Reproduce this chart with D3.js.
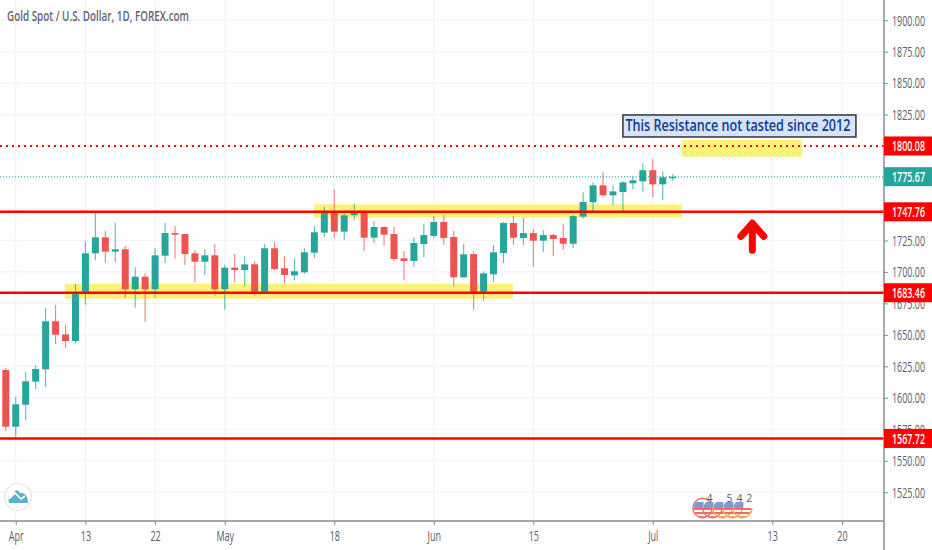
<!DOCTYPE html>
<html>
<head>
<meta charset="utf-8">
<script src="https://d3js.org/d3.v7.min.js"></script>
<style>
  html, body { margin: 0; padding: 0; background: #fff; }
  svg { display: block; }
  text { font-family: "Open Sans", "Liberation Sans", sans-serif; }
</style>
</head>
<body>
<svg id="chart" width="932" height="550"></svg>
<script>
// daily candles
var opens = [1622.1,1577.0,1594.5,1612.8,1622.6,1660.8,1650.4,1645.1,1684.3,1714.8,1727.5,1716.1,1718.0,1686.2,1696.2,1686.2,1712.9,1730.9,1730.1,1714.8,1708.1,1713.2,1686.2,1703.4,1701.5,1706.0,1684.3,1718.8,1702.9,1697.3,1699.7,1715.3,1731.2,1747.9,1732.0,1745.0,1747.4,1727.2,1735.7,1730.1,1710.8,1708.7,1722.2,1728.6,1739.7,1727.8,1695.7,1714.2,1684.3,1698.1,1715.0,1738.9,1727.0,1730.9,1724.8,1729.3,1727.0,1722.4,1743.9,1755.3,1768.8,1760.9,1763.5,1770.4,1772.0,1780.8,1769.6,1774.9];
var highs = [1623.7,1600.9,1620.3,1626.1,1671.1,1673.7,1657.9,1690.4,1724.6,1747.1,1732.5,1738.9,1720.6,1703.7,1698.9,1718.8,1738.9,1736.5,1730.1,1717.4,1718.0,1722.2,1706.0,1714.2,1712.4,1708.4,1722.2,1723.8,1712.7,1710.8,1718.8,1736.5,1751.6,1765.7,1746.6,1754.2,1748.5,1740.5,1736.0,1735.7,1716.6,1727.8,1738.1,1744.4,1745.2,1732.5,1722.2,1716.6,1700.5,1721.4,1739.7,1744.4,1743.1,1734.1,1733.3,1730.1,1738.1,1745.2,1763.3,1771.2,1779.2,1768.8,1772.0,1776.0,1786.3,1789.7,1780.0,1777.6];
var lows = [1573.6,1568.6,1582.4,1606.8,1608.8,1642.8,1639.3,1643.3,1674.0,1709.5,1707.1,1707.9,1679.5,1671.6,1660.5,1679.5,1707.1,1710.5,1705.5,1691.8,1697.3,1681.1,1670.0,1691.8,1688.6,1681.1,1684.0,1701.3,1691.0,1693.3,1698.6,1711.1,1728.0,1727.0,1725.6,1741.3,1716.6,1723.0,1720.6,1708.7,1693.3,1703.9,1711.9,1727.0,1721.4,1688.6,1695.5,1670.0,1677.2,1691.8,1707.1,1721.4,1721.4,1703.9,1715.8,1712.7,1717.4,1719.0,1742.3,1748.2,1760.0,1753.2,1748.2,1765.7,1764.0,1759.3,1756.9,1772.5];
var closes = [1577.0,1594.8,1613.1,1622.9,1660.8,1650.1,1645.1,1682.4,1714.8,1727.5,1716.1,1718.0,1686.2,1696.2,1686.2,1713.2,1730.9,1729.6,1714.2,1708.1,1713.2,1686.2,1703.4,1701.5,1706.0,1684.3,1718.8,1702.3,1697.6,1700.5,1715.6,1731.5,1746.8,1732.0,1745.0,1747.4,1727.2,1735.7,1729.6,1710.3,1708.7,1723.0,1729.3,1739.7,1727.0,1695.7,1714.0,1683.8,1698.9,1715.6,1738.9,1727.2,1730.9,1724.8,1729.3,1726.2,1722.4,1744.4,1755.6,1768.8,1760.9,1764.0,1771.2,1772.8,1780.8,1769.6,1775.2,1775.67];

// axes
var priceTicks = [1900,1875,1850,1825,1800,1775,1750,1725,1700,1675,1650,1625,1600,1575,1550,1525];
var hiddenPriceLabels = [1800,1775,1750];
var dayTicks = [1,8,15,22,33,43,53,65,77,84];
var dayNames = ['Apr','13','22','May','18','Jun','15','Jul','13','20'];

// horizontal levels and the price tags on the axis
var solidLevels = [1747.76,1683.46,1567.72];
var resistance = 1800.08;
var lastPrice = 1775.67;

// highlighted zones
var zoneStart = [5.95,30.96,67.93];
var zoneEnd = [50.95,67.93,80];
var zoneTop = [1690.6,1753.7,1804.8];
var zoneBottom = [1678.7,1743.1,1791.5];

// economic events along the bottom
var eventDays = [70,71,72,73,74];
var eventCounts = ['4','','5','4','2'];

var up = '#26a69a', down = '#ef5350', lineRed = '#ff0000', textCol = '#5a5d68', gridCol = '#f1f3fb';
var W = 932, H = 550, plotR = 884, plotB = 521;

var x = d3.scaleLinear().domain([0,67]).range([5.8,672.7]);
var y = d3.scaleLinear().domain([1525,1900]).range([492.2,20.2]);

var svg = d3.select('#chart');

// the reference font is narrow, so squeeze the text to a share of its natural width
function squeeze(sel, k) {
  sel.attr('lengthAdjust','spacingAndGlyphs')
    .attr('textLength',function(){ return this.getComputedTextLength()*k; });
}

// grid
svg.append('g').selectAll('line').data(priceTicks).enter().append('line')
  .attr('x1',0).attr('x2',plotR).attr('y1',d=>y(d)).attr('y2',d=>y(d))
  .attr('stroke',gridCol).attr('stroke-width',1.2);
svg.append('g').selectAll('line').data(dayTicks).enter().append('line')
  .attr('x1',d=>x(d)).attr('x2',d=>x(d)).attr('y1',0).attr('y2',plotB)
  .attr('stroke',gridCol).attr('stroke-width',1.2);

// yellow zones
svg.append('g').selectAll('rect').data(zoneStart).enter().append('rect')
  .attr('x',d=>x(d))
  .attr('width',(d,i)=>x(zoneEnd[i])-x(d))
  .attr('y',(d,i)=>y(zoneTop[i]))
  .attr('height',(d,i)=>y(zoneBottom[i])-y(zoneTop[i]))
  .attr('fill','#fff176');

// candles
var candles = svg.append('g').selectAll('g').data(opens).enter().append('g');
candles.append('line')
  .attr('x1',(d,i)=>x(i)).attr('x2',(d,i)=>x(i))
  .attr('y1',(d,i)=>y(highs[i])).attr('y2',(d,i)=>y(lows[i]))
  .attr('stroke',(d,i)=>closes[i]>=d?up:down)
  .attr('stroke-opacity',0.75).attr('stroke-width',1.1);
candles.append('rect')
  .attr('x',(d,i)=>x(i)-3.5).attr('width',7)
  .attr('y',(d,i)=>y(Math.max(d,closes[i])))
  .attr('height',(d,i)=>Math.max(1.5,Math.abs(y(d)-y(closes[i]))))
  .attr('fill',(d,i)=>closes[i]>=d?up:down);

// level lines
svg.append('g').selectAll('line').data(solidLevels).enter().append('line')
  .attr('x1',0).attr('x2',plotR).attr('y1',d=>y(d)).attr('y2',d=>y(d))
  .attr('stroke',lineRed).attr('stroke-width',2.4);
svg.append('line').attr('x1',0).attr('x2',plotR).attr('y1',y(resistance)).attr('y2',y(resistance))
  .attr('stroke',lineRed).attr('stroke-width',2).attr('stroke-dasharray','2,4');
svg.append('line').attr('x1',0).attr('x2',plotR).attr('y1',y(lastPrice)).attr('y2',y(lastPrice))
  .attr('stroke',up).attr('stroke-width',1).attr('stroke-dasharray','1,2');

// annotation box
svg.append('rect').attr('x',x(62)).attr('y',y(1824.7)).attr('width',233).attr('height',22)
  .attr('fill','#d6e4fa').attr('stroke','#3d3f45').attr('stroke-width',1.6);
svg.append('text').attr('x',x(62)+2.5).attr('y',y(1824.7)+16.5)
  .attr('font-size',16).attr('font-weight',600).attr('fill','#0f3c8f').attr('textLength',225).attr('lengthAdjust','spacingAndGlyphs')
  .text('This Resistance not tasted since 2012');

// up arrow
var ax = x(75), atop = y(1741);
svg.append('path')
  .attr('d','M'+ax+','+(atop+30)+'V'+(atop+3)+'M'+(ax-11.5)+','+(atop+16)+'L'+ax+','+(atop+3)+'L'+(ax+11.5)+','+(atop+16))
  .attr('fill','none').attr('stroke',lineRed).attr('stroke-width',7).attr('stroke-linecap','round').attr('stroke-linejoin','round');

// title
svg.append('text').attr('x',7).attr('y',21).attr('font-size',15).attr('font-weight',600).attr('fill','#62656f')
  .attr('textLength',182).attr('lengthAdjust','spacingAndGlyphs')
  .text('Gold Spot / U.S. Dollar, 1D, FOREX.com');

// logo
var logo = svg.append('g').attr('transform','translate(18,497)');
logo.append('circle').attr('r',13.5).attr('fill','#fff').attr('stroke','#e6e6ec').attr('stroke-width',1.2);
logo.append('path').attr('d','M-9,6 Q-11,0 -6,-1 L-3,-6 Q0,-8 2,-4 L5,-4 Q10,-2 10,6 Z').attr('fill','#59b2c9');
logo.append('path').attr('d','M-9,2 L-3,-4 L3,2 L7,-1').attr('fill','none').attr('stroke','#fff').attr('stroke-width',1.6);

// event flags, the later rings only show their lower half
var evY = 508;
var defs = svg.append('defs');
var ring = d3.arc().innerRadius(9).outerRadius(10.4);
var events = svg.append('g').selectAll('g').data(eventDays).enter().append('g')
  .attr('transform',d=>'translate('+x(d)+','+evY+')');
events.each(function(d,i){
  var g = d3.select(this);
  defs.append('clipPath').attr('id','flag'+i).append('circle').attr('r',9);
  var f = g.append('g').attr('clip-path','url(#flag'+i+')');
  f.append('rect').attr('x',-9).attr('y',-6).attr('width',10).attr('height',6).attr('fill','#7d9bd0');
  [0,4,8].forEach(function(s){
    f.append('rect').attr('x',-9).attr('y',s).attr('width',18).attr('height',2).attr('fill','#ef6a6a');
  });
  g.append('path')
    .attr('d',ring({startAngle:i<1?0:Math.PI/2,endAngle:i<1?Math.PI*2:Math.PI*1.5}))
    .attr('fill',i<2?'#f26d6d':'#f7a94f');
});
svg.append('g').selectAll('text').data(eventDays).enter().append('text')
  .attr('x',d=>x(d)+7).attr('y',evY-6).attr('text-anchor','middle')
  .attr('font-size',10.5).attr('fill',textCol).text((d,i)=>eventCounts[i]);

// white strips behind the axes
svg.append('rect').attr('x',plotR).attr('y',0).attr('width',W-plotR).attr('height',H).attr('fill','#fff');
svg.append('rect').attr('x',0).attr('y',plotB).attr('width',plotR).attr('height',H-plotB).attr('fill','#fff');

// price axis
var yAxis = svg.append('g').attr('transform','translate('+plotR+',0)')
  .call(d3.axisRight(y).tickValues(priceTicks.filter(d=>hiddenPriceLabels.indexOf(d)<0))
    .tickSize(4).tickPadding(4).tickFormat(d3.format('.2f')));
yAxis.select('.domain').remove();
yAxis.selectAll('line').attr('stroke','#8a8a90');
yAxis.selectAll('text').attr('font-size',15).attr('fill',textCol)
  .attr('textLength',33).attr('lengthAdjust','spacingAndGlyphs')
  .style('font-family','"Open Sans", "Liberation Sans", sans-serif');

// time axis
var xAxis = svg.append('g').attr('transform','translate(0,'+plotB+')')
  .call(d3.axisBottom(x).tickValues(dayTicks).tickSize(4).tickPadding(6).tickFormat((d,i)=>dayNames[i]));
xAxis.select('.domain').remove();
xAxis.selectAll('line').attr('stroke','#8a8a90');
xAxis.selectAll('text').attr('font-size',14.5).attr('fill',textCol)
  .style('font-family','"Open Sans", "Liberation Sans", sans-serif')
  .call(squeeze,0.62);

svg.append('line').attr('x1',0).attr('x2',plotR).attr('y1',plotB).attr('y2',plotB).attr('stroke','#8a8a90').attr('stroke-width',1.5);
svg.append('line').attr('x1',plotR).attr('x2',plotR).attr('y1',0).attr('y2',H).attr('stroke','#8a8a90').attr('stroke-width',1.5);

// price tags
var tagPrices = solidLevels.concat([resistance,lastPrice]);
var tags = svg.append('g').selectAll('g').data(tagPrices).enter().append('g')
  .attr('transform',d=>'translate('+plotR+','+y(d)+')');
tags.append('rect').attr('x',0).attr('y',-9.5).attr('width',W-plotR).attr('height',19)
  .attr('fill',d=>d===lastPrice?up:lineRed);
tags.append('text').attr('x',8).attr('y',5.5).attr('font-size',15).attr('font-weight',600).attr('fill','#fff')
  .attr('textLength',33).attr('lengthAdjust','spacingAndGlyphs')
  .text(d=>d3.format('.2f')(d));
</script>
</body>
</html>
